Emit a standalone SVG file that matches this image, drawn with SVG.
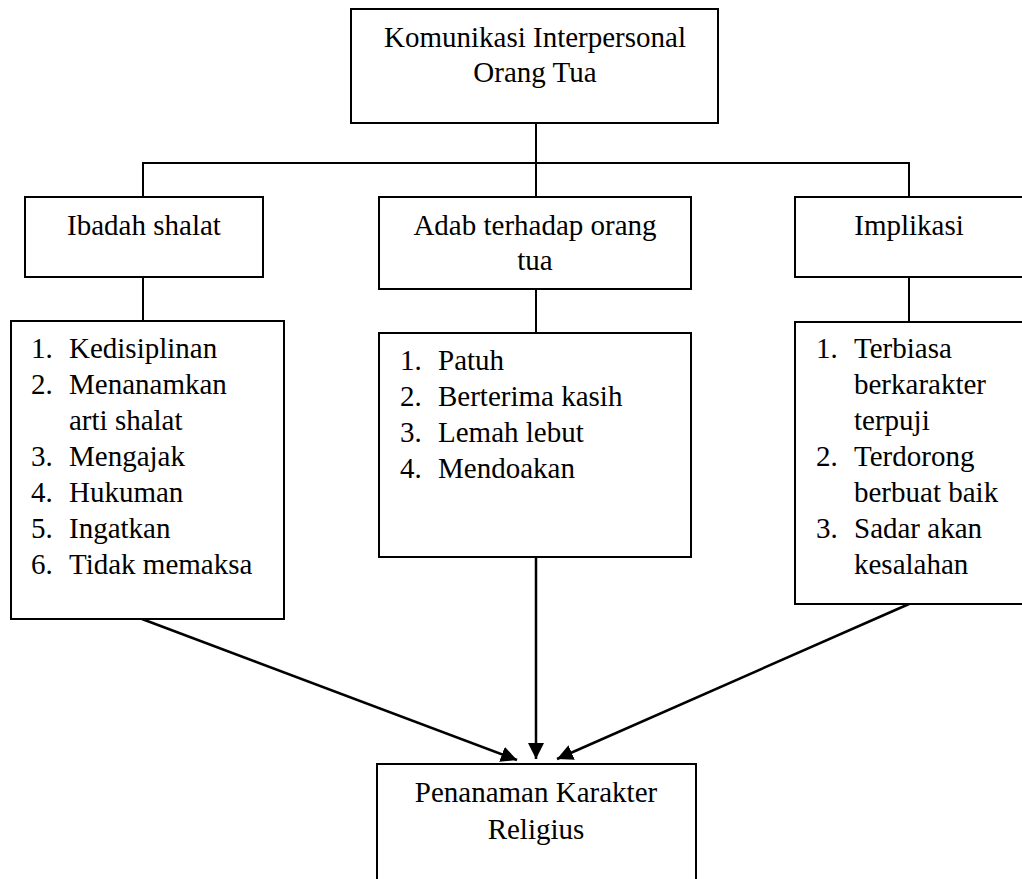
<svg xmlns="http://www.w3.org/2000/svg" width="1022" height="879" viewBox="0 0 1022 879">
<defs>
<style>
.box{fill:#fff;stroke:#000;stroke-width:2}
.ln{fill:none;stroke:#000;stroke-width:2}
.ar{fill:none;stroke:#000;stroke-width:2.5}
.c{text-anchor:middle}
</style>
<marker id="ah" markerUnits="userSpaceOnUse" markerWidth="16" markerHeight="16" refX="16" refY="8" orient="auto">
<path d="M0,0 L16,8 L0,16 Z" fill="#000"/>
</marker>
</defs>
<rect width="1022" height="879" fill="#fff"/>
<g id="connectors">
<line class="ln" x1="536" y1="123" x2="536" y2="197"/>
<polyline class="ln" points="143,197 143,163 909,163 909,197"/>
<line class="ln" x1="143" y1="277" x2="143" y2="321"/>
<line class="ln" x1="536" y1="289" x2="536" y2="333"/>
<line class="ln" x1="909" y1="277" x2="909" y2="322"/>
<line class="ar" x1="142" y1="619" x2="517" y2="760" marker-end="url(#ah)"/>
<line class="ar" x1="536" y1="557" x2="536" y2="759" marker-end="url(#ah)"/>
<line class="ar" x1="909" y1="604" x2="557" y2="759" marker-end="url(#ah)"/>
</g>
<g font-family="'Liberation Serif', 'Times New Roman', serif" font-size="29" fill="#000">
<g id="top">
<rect class="box" x="351" y="9" width="367" height="114"/>
<text class="c" x="535" y="47">Komunikasi Interpersonal</text>
<text class="c" x="535" y="82">Orang Tua</text>
</g>
<g id="ibadah">
<rect class="box" x="25" y="197" width="238" height="80"/>
<text class="c" x="144" y="235">Ibadah shalat</text>
</g>
<g id="adab">
<rect class="box" x="379" y="197" width="312" height="92"/>
<text class="c" x="535" y="235">Adab terhadap orang</text>
<text class="c" x="535" y="270">tua</text>
</g>
<g id="implikasi">
<rect class="box" x="795" y="197" width="240" height="80"/>
<text class="c" x="909" y="235">Implikasi</text>
</g>
<g id="list-ibadah">
<rect class="box" x="11" y="321" width="273" height="298"/>
<text x="31" y="358">1.</text><text x="69" y="358">Kedisiplinan</text>
<text x="31" y="394">2.</text><text x="69" y="394">Menanamkan</text>
<text x="69" y="430">arti shalat</text>
<text x="31" y="466">3.</text><text x="69" y="466">Mengajak</text>
<text x="31" y="502">4.</text><text x="69" y="502">Hukuman</text>
<text x="31" y="538">5.</text><text x="69" y="538">Ingatkan</text>
<text x="31" y="574">6.</text><text x="69" y="574">Tidak memaksa</text>
</g>
<g id="list-adab">
<rect class="box" x="379" y="333" width="312" height="224"/>
<text x="400" y="370">1.</text><text x="438" y="370">Patuh</text>
<text x="400" y="406">2.</text><text x="438" y="406">Berterima kasih</text>
<text x="400" y="442">3.</text><text x="438" y="442">Lemah lebut</text>
<text x="400" y="478">4.</text><text x="438" y="478">Mendoakan</text>
</g>
<g id="list-implikasi">
<rect class="box" x="795" y="322" width="240" height="282"/>
<text x="816" y="358">1.</text><text x="854" y="358">Terbiasa</text>
<text x="854" y="394">berkarakter</text>
<text x="854" y="430">terpuji</text>
<text x="816" y="466">2.</text><text x="854" y="466">Terdorong</text>
<text x="854" y="502">berbuat baik</text>
<text x="816" y="538">3.</text><text x="854" y="538">Sadar akan</text>
<text x="854" y="574">kesalahan</text>
</g>
<g id="penanaman">
<rect class="box" x="377" y="764" width="319" height="130"/>
<text class="c" x="536" y="802">Penanaman Karakter</text>
<text class="c" x="536" y="839">Religius</text>
</g>
</g>
</svg>
